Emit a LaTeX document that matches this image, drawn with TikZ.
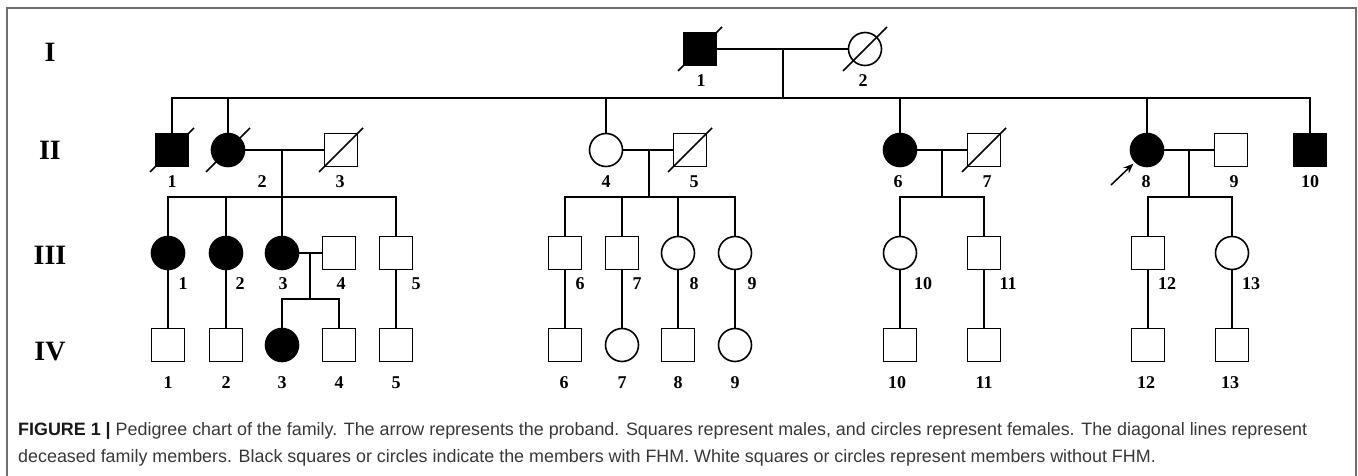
\documentclass[tikz,border=0pt]{standalone}
\usepackage{fontspec}
\setmainfont{Liberation Serif}
\newfontfamily\capfont{Liberation Sans}
\usetikzlibrary{calc,arrows.meta}
\definecolor{framegray}{RGB}{110,110,110}
\definecolor{captext}{RGB}{55,55,55}
\tikzset{
  sym/.style={draw=black, line width=1.6pt, minimum size=33pt, inner sep=0pt, outer sep=0pt, fill=white},
  male/.style={sym, rectangle},
  female/.style={sym, circle},
  aff/.style={fill=black},
  lnk/.style={line width=1.6pt, draw=black},
  slash/.style={line width=1.6pt, draw=black},
  num/.style={font=\fontsize{18}{18}\selectfont\bfseries, inner sep=0pt},
  gen/.style={font=\fontsize{28}{28}\selectfont\bfseries, inner sep=0pt},
  caption line/.style={font=\capfont\fontsize{17.9}{20}\selectfont, text=captext, inner sep=0pt, anchor=base west},
  proband/.style={line width=1.5pt, -{Stealth[length=10pt,width=8pt]}}
}
\begin{document}
\begin{tikzpicture}[x=1pt,y=-1pt]
\useasboundingbox (0,0) rectangle (1358,476);
% frame
\draw[framegray, line width=1.4pt] (7,476) -- (7,8) -- (1356,8) -- (1356,476);

% generation labels
\node[gen] (gI)   at (50,52)  {I};
\node[gen] (gII)  at (50,150) {II};
\node[gen] (gIII) at (50,255) {III};
\node[gen] (gIV)  at (50,352) {IV};

% generation I
\node[male,aff] (I1) at (700,49) {};
\node[female]   (I2) at (865,49) {};

% generation II
\node[male,aff]   (II1)  at (172,150) {};
\node[female,aff] (II2)  at (228,150) {};
\node[male]       (II3)  at (341,150) {};
\node[female]     (II4)  at (606,150) {};
\node[male]       (II5)  at (690,150) {};
\node[female,aff] (II6)  at (900,150) {};
\node[male]       (II7)  at (984,150) {};
\node[female,aff] (II8)  at (1147,150) {};
\node[male]       (II9)  at (1231,150) {};
\node[male,aff]   (II10) at (1310,150) {};

% generation III
\node[female,aff] (III1)  at (168,253) {};
\node[female,aff] (III2)  at (226,253) {};
\node[female,aff] (III3)  at (282,253) {};
\node[male]       (III4)  at (339,253) {};
\node[male]       (III5)  at (396,253) {};
\node[male]       (III6)  at (565,253) {};
\node[male]       (III7)  at (622,253) {};
\node[female]     (III8)  at (678,253) {};
\node[female]     (III9)  at (735,253) {};
\node[female]     (III10) at (900,253) {};
\node[male]       (III11) at (984,253) {};
\node[male]       (III12) at (1148,253) {};
\node[female]     (III13) at (1232,253) {};

% generation IV
\node[male]       (IV1)  at (168,345) {};
\node[male]       (IV2)  at (226,345) {};
\node[female,aff] (IV3)  at (282,345) {};
\node[male]       (IV4)  at (339,345) {};
\node[male]       (IV5)  at (396,345) {};
\node[male]       (IV6)  at (565,345) {};
\node[female]     (IV7)  at (622,345) {};
\node[male]       (IV8)  at (678,345) {};
\node[female]     (IV9)  at (735,345) {};
\node[male]       (IV10) at (900,345) {};
\node[male]       (IV11) at (984,345) {};
\node[male]       (IV12) at (1148,345) {};
\node[male]       (IV13) at (1232,345) {};

% deceased slashes
\foreach \n in {I1,I2,II1,II2,II3,II5,II7}{
  \draw[slash] ($(\n)+(-22,22)$) -- ($(\n)+(22,-22)$);
}

% marriage and descent coordinates
\coordinate (mI) at (783,49);   \coordinate (sI) at (783,98);
\coordinate (mA) at (282,150);  \coordinate (sA) at (282,197);
\coordinate (mA2) at (310,253); \coordinate (sA2) at (310,299);
\coordinate (mB) at (649,150);  \coordinate (sB) at (649,197);
\coordinate (mC) at (942,150);  \coordinate (sC) at (942,197);
\coordinate (mD) at (1189,150); \coordinate (sD) at (1189,197);

% generation I family
\draw[lnk] (I1.east) -- (I2.west);
\draw[lnk] (mI) -- (sI);
\draw[lnk] (II1.north) |- (sI) -| (II10.north);
\foreach \n in {II2,II4,II6,II8}{ \draw[lnk] (\n.north) -- (\n.north |- sI); }

% family A
\draw[lnk] (II2.east) -- (II3.west);
\draw[lnk] (mA) -- (III3.north);
\draw[lnk] (III1.north) |- (sA) -| (III5.north);
\draw[lnk] (III2.north) -- (III2.north |- sA);
\draw[lnk] (III3.east) -- (III4.west);
\draw[lnk] (mA2) -- (sA2);
\draw[lnk] (IV3.north) |- (sA2) -| (IV4.north);

% family B
\draw[lnk] (II4.east) -- (II5.west);
\draw[lnk] (mB) -- (sB);
\draw[lnk] (III6.north) |- (sB) -| (III9.north);
\foreach \n in {III7,III8}{ \draw[lnk] (\n.north) -- (\n.north |- sB); }

% family C
\draw[lnk] (II6.east) -- (II7.west);
\draw[lnk] (mC) -- (sC);
\draw[lnk] (III10.north) |- (sC) -| (III11.north);

% family D
\draw[lnk] (II8.east) -- (II9.west);
\draw[lnk] (mD) -- (sD);
\draw[lnk] (III12.north) |- (sD) -| (III13.north);

% single-child lines III -> IV
\foreach \a/\b in {III1/IV1,III2/IV2,III5/IV5,III6/IV6,III7/IV7,III8/IV8,III9/IV9,III10/IV10,III11/IV11,III12/IV12,III13/IV13}{
  \draw[lnk] (\a.south) -- (\b.north);
}

% proband arrow
\coordinate (pbStart) at ($(II8)+(-36,35)$);
\draw[proband] (pbStart) -- ($(II8.south west)+(-2,2)$);

% labels generation I
\node[num] (lI1) at (701,81) {1};
\node[num] (lI2) at (863,81) {2};
% labels generation II
\node[num] (lII1)  at (172,182) {1};
\node[num] (lII2)  at (262,182) {2};
\node[num] (lII3)  at (340,182) {3};
\node[num] (lII4)  at (606,182) {4};
\node[num] (lII5)  at (694,182) {5};
\node[num] (lII6)  at (898,182) {6};
\node[num] (lII7)  at (987,182) {7};
\node[num] (lII8)  at (1146,182) {8};
\node[num] (lII9)  at (1234,182) {9};
\node[num] (lII10) at (1310,182) {10};
% labels generation III
\node[num] (lIII1)  at (183,284) {1};
\node[num] (lIII2)  at (240,284) {2};
\node[num] (lIII3)  at (283,284) {3};
\node[num] (lIII4)  at (341,284) {4};
\node[num] (lIII5)  at (416,284) {5};
\node[num] (lIII6)  at (580,284) {6};
\node[num] (lIII7)  at (637,284) {7};
\node[num] (lIII8)  at (694,284) {8};
\node[num] (lIII9)  at (752,284) {9};
\node[num] (lIII10) at (923,284) {10};
\node[num] (lIII11) at (1008,284) {11};
\node[num] (lIII12) at (1167,284) {12};
\node[num] (lIII13) at (1251,284) {13};
% labels generation IV
\node[num] (lIV1)  at (168,383) {1};
\node[num] (lIV2)  at (226,383) {2};
\node[num] (lIV3)  at (282,383) {3};
\node[num] (lIV4)  at (339,383) {4};
\node[num] (lIV5)  at (396,383) {5};
\node[num] (lIV6)  at (564,383) {6};
\node[num] (lIV7)  at (622,383) {7};
\node[num] (lIV8)  at (678,383) {8};
\node[num] (lIV9)  at (735,383) {9};
\node[num] (lIV10) at (897,383) {10};
\node[num] (lIV11) at (984,383) {11};
\node[num] (lIV12) at (1146,383) {12};
\node[num] (lIV13) at (1230,383) {13};

% caption
\node[caption line] (cap1) at (18,435) {{\bfseries\color{black!90}FIGURE 1 |} Pedigree chart of the family. The arrow represents the proband. Squares represent males, and circles represent females. The diagonal lines represent};
\node[caption line] (cap2) at (18,462) {deceased family members. Black squares or circles indicate the members with FHM. White squares or circles represent members without FHM.};
\end{tikzpicture}
\end{document}
